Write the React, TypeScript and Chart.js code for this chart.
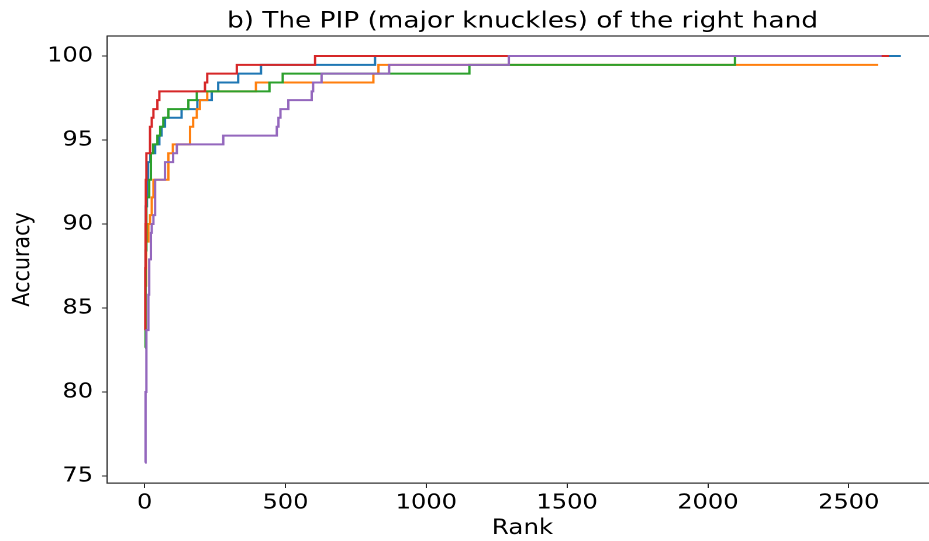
import React, { useEffect, useRef } from "react";
import { Chart, registerables } from "chart.js";

Chart.register(...registerables);

// ---------- text ----------
const TITLE = "b) The PIP (major knuckles) of the right hand";
const X_LABEL = "Rank";
const Y_LABEL = "Accuracy";
const X_TICKS = [0, 500, 1000, 1500, 2000, 2500];
const Y_TICKS = [75, 80, 85, 90, 95, 100];

// ---------- data (rank where the accuracy changes, accuracy %) ----------
const blueRank = [1, 4, 8, 12, 20, 37, 52, 60, 72, 131, 187, 238, 261, 332, 413, 818, 2685];
const blueAcc = [87.89, 91.05, 92.63, 93.68, 94.21, 94.74, 95.26, 95.79, 96.32, 96.84, 97.37, 97.89, 98.42, 98.95, 99.47, 100, 100];

const orangeRank = [1, 5, 13, 19, 25, 31, 84, 100, 161, 172, 185, 196, 222, 395, 812, 830, 2604];
const orangeAcc = [86.32, 88.95, 90.0, 90.53, 91.58, 92.63, 94.21, 94.74, 95.79, 96.32, 96.84, 97.37, 97.89, 98.42, 98.95, 99.47, 99.47];

const greenRank = [1, 3, 6, 16, 22, 30, 45, 55, 66, 84, 155, 185, 443, 490, 1153, 2096, 2600];
const greenAcc = [82.63, 88.42, 91.58, 92.63, 94.21, 94.74, 95.26, 95.79, 96.32, 96.84, 97.37, 97.89, 98.42, 98.95, 99.47, 100, 100];

const redRank = [1, 2, 3, 4, 6, 19, 25, 31, 45, 52, 214, 222, 327, 605, 2643];
const redAcc = [83.68, 87.37, 90.0, 92.63, 94.21, 95.79, 96.32, 96.84, 97.37, 97.89, 98.42, 98.95, 99.47, 100, 100];

const purpleRank = [1, 3, 6, 13, 16, 22, 25, 31, 37, 72, 101, 114, 279, 469, 475, 482, 510, 593, 598, 628, 868, 1293, 2617];
const purpleAcc = [75.79, 80.0, 83.68, 85.79, 87.89, 89.47, 90.0, 90.53, 92.63, 93.68, 94.21, 94.74, 95.26, 95.79, 96.32, 96.84, 97.37, 97.89, 98.42, 98.95, 99.47, 100, 100];

const COLORS = {
  blue: "#1f77b4",
  orange: "#ff7f0e",
  green: "#2ca02c",
  red: "#d62728",
  purple: "#9467bd",
};

// ---------- geometry ----------
const SX = 1.17; // horizontal stretch of the reference picture
const W = 802; // logical canvas width (chart area extends past the visible frame)
const H = 541;

const pts = (xs: number[], ys: number[]) => xs.map((x, i) => ({ x, y: ys[i] }));

const topSpine = {
  id: "topSpine",
  afterDraw(chart: any) {
    const { ctx, chartArea } = chart;
    ctx.save();
    ctx.strokeStyle = "#333333";
    ctx.lineWidth = 1.2;
    ctx.beginPath();
    ctx.moveTo(chartArea.left, chartArea.top);
    ctx.lineTo(chartArea.right, chartArea.top);
    ctx.stroke();
    ctx.restore();
  },
};

export default function App() {
  const ref = useRef<HTMLCanvasElement | null>(null);

  useEffect(() => {
    document.body.style.margin = "0";
    const canvas = ref.current;
    if (!canvas) return;
    const mk = (label: string, xs: number[], ys: number[], color: string) => ({
      label,
      data: pts(xs, ys),
      borderColor: color,
      backgroundColor: color,
      borderWidth: 2,
      pointRadius: 0,
      stepped: "before" as const,
      fill: false,
      tension: 0,
    });
    const font = "'DejaVu Sans', sans-serif";
    const chart = new Chart(canvas, {
      type: "line",
      data: {
        // first dataset is drawn on top
        datasets: [
          mk("purple", purpleRank, purpleAcc, COLORS.purple),
          mk("red", redRank, redAcc, COLORS.red),
          mk("green", greenRank, greenAcc, COLORS.green),
          mk("orange", orangeRank, orangeAcc, COLORS.orange),
          mk("blue", blueRank, blueAcc, COLORS.blue),
        ],
      },
      options: {
        animation: false,
        responsive: false,
        devicePixelRatio: 2,
        layout: { padding: 0 },
        plugins: {
          legend: { display: false },
          tooltip: { enabled: false },
          title: {
            display: true,
            text: TITLE,
            fullSize: false,
            color: "#000",
            font: { family: font, size: 22.5, weight: "normal" },
            padding: { top: 8, bottom: 1 },
          },
        },
        scales: {
          x: {
            type: "linear",
            min: -134,
            max: 2817,
            afterFit: (s: any) => {
              s.height = 58;
            },
            afterBuildTicks: (s: any) => {
              s.ticks = X_TICKS.map((v) => ({ value: v }));
            },
            grid: {
              display: true,
              drawOnChartArea: false,
              drawTicks: true,
              tickLength: 5,
              tickColor: "#222",
              lineWidth: 1,
            },
            border: { display: true, color: "#333333", width: 1.2 },
            ticks: {
              color: "#000",
              font: { family: font, size: 20.6 },
              padding: 3,
              maxRotation: 0,
              autoSkip: false,
              callback: (v: any) => String(v),
            },
            title: {
              display: true,
              text: X_LABEL,
              color: "#000",
              font: { family: font, size: 21 },
              padding: { top: 0, bottom: 0 },
            },
          },
          y: {
            type: "linear",
            min: 74.58,
            max: 101.19,
            afterFit: (s: any) => {
              s.width = 91.45;
            },
            afterBuildTicks: (s: any) => {
              s.ticks = Y_TICKS.map((v) => ({ value: v }));
            },
            grid: {
              display: true,
              drawOnChartArea: false,
              drawTicks: true,
              tickLength: 4.3,
              tickColor: "#222",
              lineWidth: 1,
            },
            border: { display: true, color: "#333333", width: 1.2 },
            ticks: {
              color: "#000",
              font: { family: font, size: 20.6 },
              padding: 7.6,
              autoSkip: false,
              callback: (v: any) => String(v),
            },
            title: {
              display: true,
              text: Y_LABEL,
              color: "#000",
              font: { family: font, size: 20.7 },
              padding: { top: 7.3, bottom: 0 },
            },
          },
        },
      },
      plugins: [topSpine],
    });
    return () => chart.destroy();
  }, []);

  return (
    <div
      style={{
        position: "fixed",
        left: 0,
        top: 0,
        width: 929,
        height: H,
        overflow: "hidden",
        background: "#fff",
      }}
    >
      <canvas
        ref={ref}
        width={W}
        height={H}
        style={{ width: `${W * SX}px`, height: `${H}px`, display: "block" }}
      />
    </div>
  );
}
